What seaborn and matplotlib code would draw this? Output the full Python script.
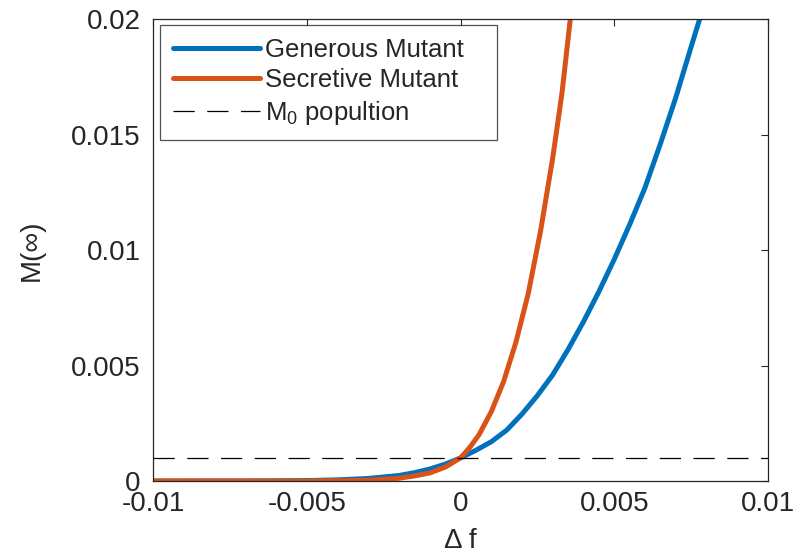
import numpy as np
import pandas as pd
import seaborn as sns
import matplotlib
matplotlib.use('agg')
import matplotlib.pyplot as plt

# values
df_generous = [-0.01, -0.007, -0.005, -0.004, -0.003, -0.002, -0.0015, -0.001,
               -0.0005, 0.0, 0.0005, 0.001, 0.0015, 0.002, 0.0025, 0.003,
               0.0035, 0.004, 0.0045, 0.005, 0.0055, 0.006, 0.0065, 0.007,
               0.0075, 0.0078]
m_generous = [0.0, 0.000004, 0.00002, 0.00005, 0.00011, 0.00024, 0.00036, 0.00052,
              0.00073, 0.001, 0.00133, 0.0017, 0.0022, 0.0029, 0.0037, 0.0046,
              0.0057, 0.0069, 0.0082, 0.0096, 0.0111, 0.0127, 0.0146, 0.0166,
              0.0188, 0.0201]

df_secretive = [-0.01, -0.005, -0.003, -0.002, -0.0015, -0.001, -0.0005, 0.0,
                0.0003, 0.0006, 0.001, 0.0014, 0.0018, 0.0022, 0.0026,
                0.003, 0.0033, 0.00357]
m_secretive = [0.0, 0.0, 0.00003, 0.00012, 0.00022, 0.00035, 0.0006, 0.001,
               0.00145, 0.002, 0.003, 0.0043, 0.006, 0.0081, 0.0108,
               0.0140, 0.0168, 0.020]

m0_level = 0.001
x_range = [-0.01, 0.01]

sns.set_style('white')
plt.rcParams['font.family'] = ['Liberation Sans', 'DejaVu Sans']
plt.rcParams['mathtext.fontset'] = 'custom'
plt.rcParams['mathtext.rm'] = 'Liberation Sans'
plt.rcParams['mathtext.it'] = 'Liberation Sans:italic'

fig = plt.figure(figsize=(7.94, 5.59), dpi=100)
ax = fig.add_axes([0.1927, 0.1395, 0.7746, 0.8265])

gen = pd.DataFrame({'x': df_generous, 'y': m_generous})
sec = pd.DataFrame({'x': df_secretive, 'y': m_secretive})

sns.lineplot(data=gen, x='x', y='y', ax=ax, color='#0072BD', linewidth=3.6,
             label='Generous Mutant')
sns.lineplot(data=sec, x='x', y='y', ax=ax, color='#D95319', linewidth=3.6,
             label='Secretive Mutant')
ax.plot(x_range, [m0_level, m0_level], color='black', linewidth=0.9,
        dashes=(17, 10), label='M$_0$ popultion')

ax.set_xlim(-0.01, 0.01)
ax.set_ylim(0, 0.02)
ax.set_xticks([-0.01, -0.005, 0, 0.005, 0.01])
ax.set_xticklabels(['-0.01', '-0.005', '0', '0.005', '0.01'])
ax.set_yticks([0, 0.005, 0.01, 0.015, 0.02])
ax.set_yticklabels(['0', '0.005', '0.01', '0.015', '0.02'])

ax.set_xlabel('Δ f', fontsize=20, color='#262626', labelpad=8)
ax.set_ylabel('M(∞)', fontsize=20, color='#262626', labelpad=19)

for s in ax.spines.values():
    s.set_color('#262626')
    s.set_linewidth(0.9)
ax.tick_params(direction='in', length=5, width=0.8, top=True, right=True,
               labelsize=20, colors='#262626')
ax.tick_params(axis='x', pad=7)
ax.tick_params(axis='y', pad=9)

leg = ax.legend(loc='upper left', bbox_to_anchor=(0.0114, 0.987, 0.548, 0),
                mode='expand', borderaxespad=0, fontsize=18.5, frameon=True,
                fancybox=False, handlelength=3.4, handletextpad=0.2,
                labelspacing=0.25, borderpad=0.5)
leg.get_frame().set_edgecolor('#262626')
leg.get_frame().set_linewidth(0.9)

fig.savefig('out.png', dpi=100)
